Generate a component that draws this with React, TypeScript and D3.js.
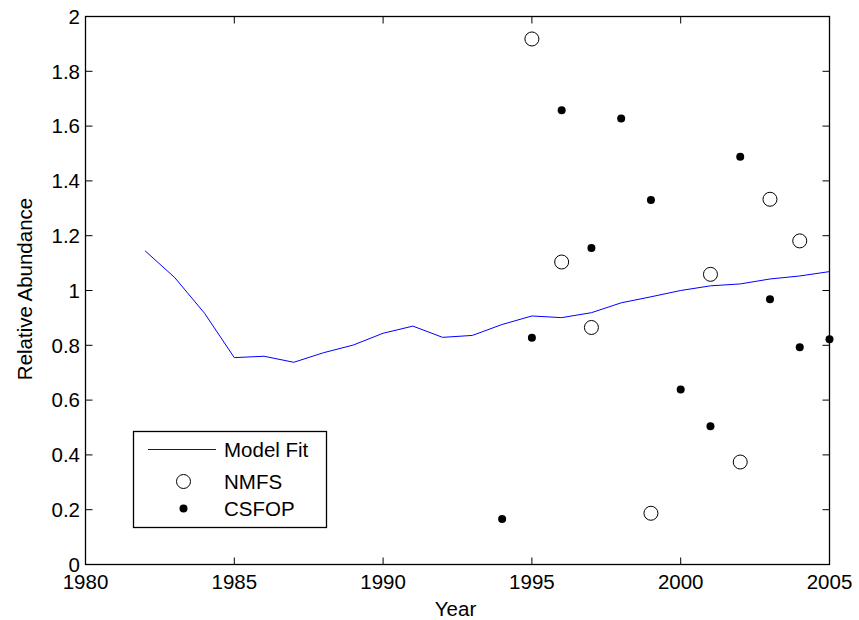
import React from "react";
import * as d3 from "d3";

const fitYears = [1982, 1983, 1984, 1985, 1986, 1987, 1988, 1989, 1990, 1991, 1992, 1993, 1994, 1995, 1996, 1997, 1998, 1999, 2000, 2001, 2002, 2003, 2004, 2005];
const fitValues = [1.145, 1.047, 0.917, 0.755, 0.76, 0.738, 0.773, 0.801, 0.844, 0.87, 0.829, 0.836, 0.876, 0.907, 0.901, 0.919, 0.955, 0.977, 1.0, 1.017, 1.024, 1.042, 1.053, 1.069];

const nmfsYears = [1995, 1996, 1997, 1999, 2001, 2002, 2003, 2004];
const nmfsValues = [1.918, 1.104, 0.865, 0.187, 1.059, 0.374, 1.333, 1.181];

const csfopYears = [1994, 1995, 1996, 1997, 1998, 1999, 2000, 2001, 2002, 2003, 2004, 2005];
const csfopValues = [0.166, 0.828, 1.658, 1.155, 1.628, 1.33, 0.639, 0.505, 1.488, 0.968, 0.793, 0.822];

const xTicks = [1980, 1985, 1990, 1995, 2000, 2005];
const yTicks = [0, 0.2, 0.4, 0.6, 0.8, 1, 1.2, 1.4, 1.6, 1.8, 2];

const legendLabels = ["Model Fit", "NMFS", "CSFOP"];

const W = 859, H = 620;
const L = 85.5, R = 829.5, T = 16.5, B = 564.5;
const FONT = "'Liberation Sans', Arial, Helvetica, sans-serif";

export default function App() {
  const x = d3.scaleLinear().domain([1980, 2005]).range([L, R]);
  const y = d3.scaleLinear().domain([0, 2]).range([B, T]);
  const line = d3.line<number>().x((_, i) => x(fitYears[i])).y((d) => y(d));
  const tk = 7;
  const fs = 20.5;

  return (
    <svg width={W} height={H} style={{ position: "absolute", left: 0, top: 0, background: "#fff" }} fontFamily={FONT}>
      <rect x={0} y={0} width={W} height={H} fill="#fff" />
      {/* model fit */}
      <path d={line(fitValues) || ""} fill="none" stroke="#0000ff" strokeWidth={1} />
      {nmfsValues.map((v, i) => (
        <circle key={"n" + i} cx={x(nmfsYears[i])} cy={y(v)} r={7} fill="none" stroke="#000" strokeWidth={1} />
      ))}
      {csfopValues.map((v, i) => (
        <circle key={"c" + i} cx={x(csfopYears[i])} cy={y(v)} r={4} fill="#000" />
      ))}
      {/* frame */}
      <rect x={L} y={T} width={R - L} height={B - T} fill="none" stroke="#000" strokeWidth={1.3} />
      {xTicks.map((t) => (
        <g key={"xt" + t}>
          <line x1={x(t)} x2={x(t)} y1={B} y2={B - tk} stroke="#000" strokeWidth={1} />
          <line x1={x(t)} x2={x(t)} y1={T} y2={T + tk} stroke="#000" strokeWidth={1} />
          <text x={x(t)} y={588.5} textAnchor="middle" fontSize={fs}>{t}</text>
        </g>
      ))}
      {yTicks.map((t) => (
        <g key={"yt" + t}>
          <line x1={L} x2={L + tk} y1={y(t)} y2={y(t)} stroke="#000" strokeWidth={1} />
          <line x1={R} x2={R - tk} y1={y(t)} y2={y(t)} stroke="#000" strokeWidth={1} />
          <text x={80} y={y(t)} dy="0.355em" textAnchor="end" fontSize={fs}>{d3.format("~g")(t)}</text>
        </g>
      ))}
      <text x={455.5} y={616} textAnchor="middle" fontSize={fs}>Year</text>
      <text transform={`translate(32,289) rotate(-90)`} textAnchor="middle" fontSize={fs}>Relative Abundance</text>
      {/* legend */}
      <rect x={133.5} y={431.5} width={193} height={96} fill="#fff" stroke="#000" strokeWidth={1.3} />
      <line x1={148} x2={216} y1={449.5} y2={449.5} stroke="#0000ff" strokeWidth={1} />
      <circle cx={183.5} cy={481.5} r={7} fill="none" stroke="#000" strokeWidth={1} />
      <circle cx={183.5} cy={508.5} r={4} fill="#000" />
      {legendLabels.map((lab, i) => (
        <text key={lab} x={224} y={[449.5, 481.5, 508.5][i]} dy="0.355em" fontSize={fs}>{lab}</text>
      ))}
    </svg>
  );
}
